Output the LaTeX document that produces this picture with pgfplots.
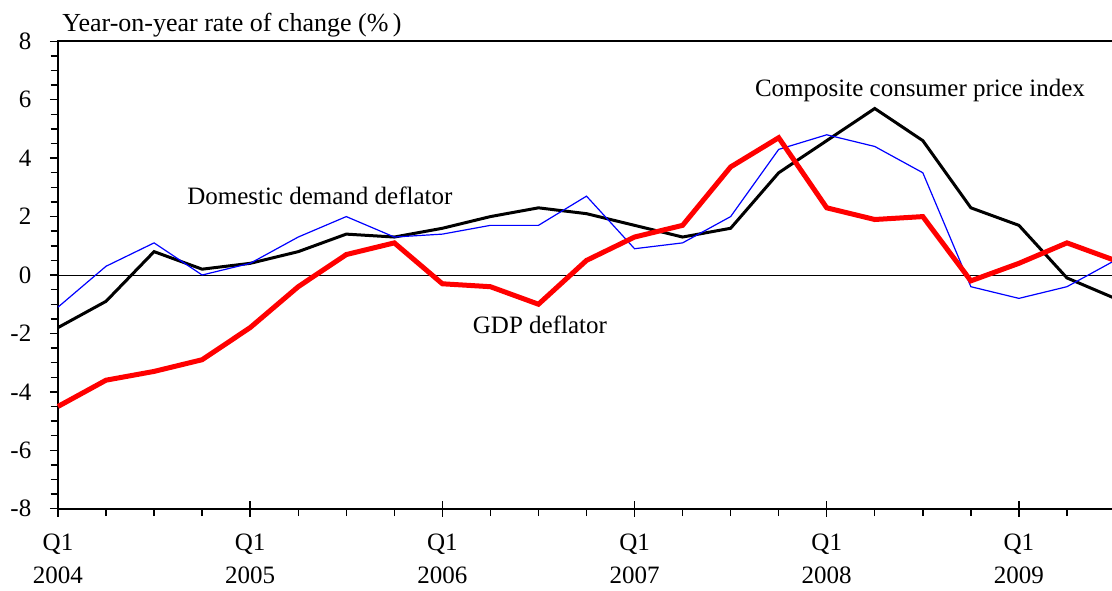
\documentclass[border=0pt]{standalone}
\usepackage{pgfplots}
\pgfplotsset{compat=1.18}
\usepackage{fontspec}
\setmainfont{Liberation Serif}
\begin{document}
\fontsize{12.5}{15}\selectfont
\begin{tikzpicture}
\begin{axis}[
  scale only axis,
  width=528.5pt, height=233.7pt,
  xmin=0, xmax=22, ymin=-8, ymax=8,
  axis line style={line width=0.9pt},
  xtick={0,4,8,12,16,20},
  xticklabels={Q1\\2004,Q1\\2005,Q1\\2006,Q1\\2007,Q1\\2008,Q1\\2009},
  xticklabel style={align=center, font=\fontsize{12.5}{16.5}\selectfont, yshift=-4.5pt},
  minor xtick={1,2,3,5,6,7,9,10,11,13,14,15,17,18,19,21,22},
  extra x ticks={0,4,8,12,16,20},
  extra x tick labels={},
  extra x tick style={tick align=inside},
  ytick={-8,-6,-4,-2,0,2,4,6,8},
  yticklabels={-8,-6,-4,-2,0,2,4,6,8},
  minor ytick={-7.5,-7,...,7.5},
  yticklabel style={font=\fontsize{12.5}{15}\selectfont, xshift=-5pt},
  xtick pos=bottom, ytick pos=left,
  tick style={black, line width=0.7pt},
  major tick length=4pt,
  minor tick length=3.7pt,
  tick align=outside,
  clip=false,
]
\addplot [black, line width=0.5pt, forget plot] coordinates {(0,0) (22,0)};
\addplot [black, line width=1.5pt] coordinates {
(0,-1.8) (1,-0.9) (2,0.8) (3,0.2) (4,0.4) (5,0.8) (6,1.4) (7,1.3) (8,1.6) (9,2.0) (10,2.3)
(11,2.1) (12,1.7) (13,1.3) (14,1.6) (15,3.5) (16,4.6) (17,5.7) (18,4.6) (19,2.3) (20,1.7) (21,-0.1) (22,-0.8)};
\addplot [blue, line width=0.6pt] coordinates {
(0,-1.1) (1,0.3) (2,1.1) (3,0.0) (4,0.4) (5,1.3) (6,2.0) (7,1.3) (8,1.4) (9,1.7) (10,1.7)
(11,2.7) (12,0.9) (13,1.1) (14,2.0) (15,4.3) (16,4.8) (17,4.4) (18,3.5) (19,-0.4) (20,-0.8) (21,-0.4) (22,0.5)};
\addplot [red, line width=2.5pt] coordinates {
(0,-4.5) (1,-3.6) (2,-3.3) (3,-2.9) (4,-1.8) (5,-0.4) (6,0.7) (7,1.1) (8,-0.3) (9,-0.4) (10,-1.0)
(11,0.5) (12,1.3) (13,1.7) (14,3.7) (15,4.7) (16,2.3) (17,1.9) (18,2.0) (19,-0.2) (20,0.4) (21,1.1) (22,0.5)};
\node [anchor=base west, inner sep=0pt, font=\fontsize{13}{15}\selectfont] at (rel axis cs:0,1) [xshift=2pt, yshift=5pt] {Year-on-year rate of change (\%\,)};
\node at (axis cs:5.45,2.7) {Domestic demand deflator};
\node at (axis cs:17.94,6.33) {Composite consumer price index};
\node at (axis cs:10.03,-1.71) {GDP deflator};
\end{axis}
\pgfresetboundingbox
\path (-29pt,-40.65pt) rectangle (527pt,254.35pt);
\end{tikzpicture}
\end{document}
